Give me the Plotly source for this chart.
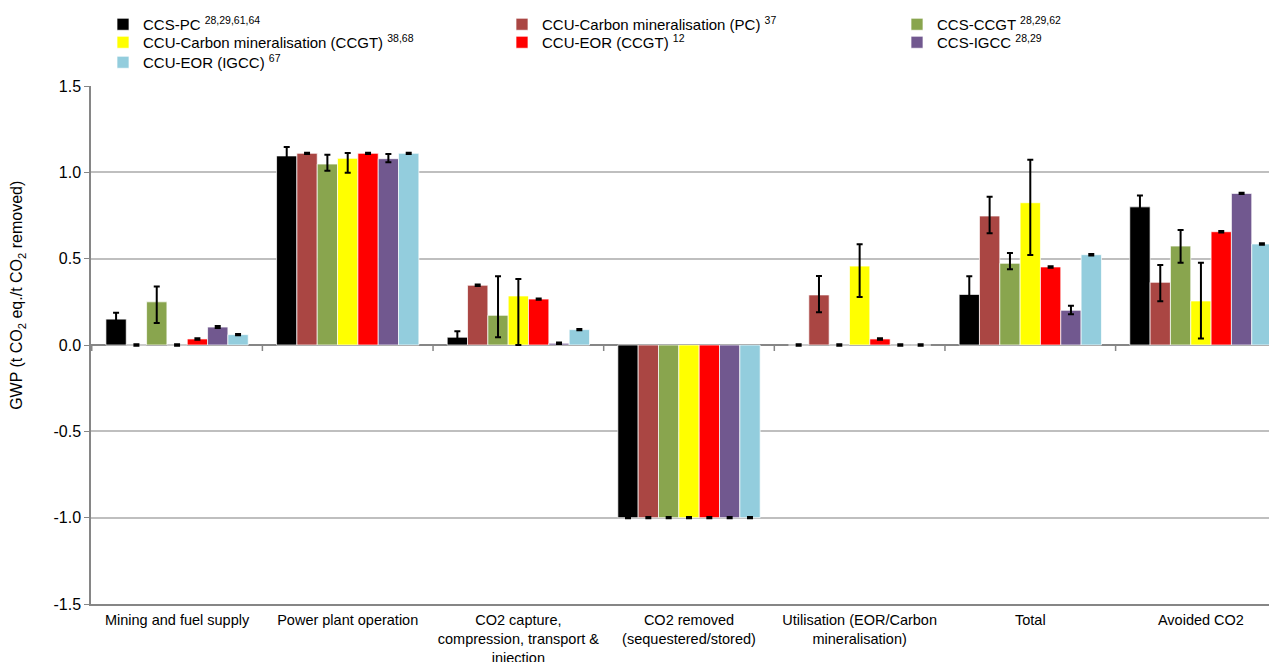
import plotly.graph_objects as go

categories = [
    "Mining and fuel supply",
    "Power plant operation",
    "CO2 capture,<br>compression, transport &<br>injection",
    "CO2 removed<br>(sequestered/stored)",
    "Utilisation (EOR/Carbon<br>mineralisation)",
    "Total",
    "Avoided CO2",
]

names = [
    "CCS-PC <sup>28,29,61,64</sup>",
    "CCU-Carbon mineralisation (PC) <sup>37</sup>",
    "CCS-CCGT <sup>28,29,62</sup>",
    "CCU-Carbon mineralisation (CCGT) <sup>38,68</sup>",
    "CCU-EOR (CCGT) <sup>12</sup>",
    "CCS-IGCC <sup>28,29</sup>",
    "CCU-EOR (IGCC) <sup>67</sup>",
]

colors = ["#000000", "#AA4643", "#89A54E", "#FFFF00", "#FF0000", "#71588F", "#93CDDD"]

y_ticks = [-1.5, -1.0, -0.5, 0.0, 0.5, 1.0, 1.5]

ccs_pc = [0.15, 1.095, 0.045, -1.0, 0.0, 0.293, 0.80]
ccs_pc_up = [0.037, 0.052, 0.034, 0.004, 0.004, 0.105, 0.066]
ccs_pc_dn = [0.037, 0.052, 0.034, 0.004, 0.004, 0.105, 0.066]

ccu_cm_pc = [0.0, 1.11, 0.346, -1.0, 0.29, 0.747, 0.363]
ccu_cm_pc_up = [0.004, 0.004, 0.004, 0.004, 0.11, 0.112, 0.10]
ccu_cm_pc_dn = [0.004, 0.004, 0.004, 0.004, 0.10, 0.10, 0.11]

ccs_ccgt = [0.25, 1.048, 0.172, -1.0, 0.0, 0.473, 0.573]
ccs_ccgt_up = [0.089, 0.054, 0.226, 0.004, 0.004, 0.06, 0.093]
ccs_ccgt_dn = [0.123, 0.039, 0.127, 0.004, 0.004, 0.035, 0.096]

ccu_cm_ccgt = [0.0, 1.081, 0.284, -1.0, 0.457, 0.824, 0.255]
ccu_cm_ccgt_up = [0.004, 0.031, 0.098, 0.004, 0.126, 0.249, 0.222]
ccu_cm_ccgt_dn = [0.004, 0.083, 0.284, 0.004, 0.179, 0.303, 0.218]

ccu_eor_ccgt = [0.035, 1.11, 0.266, -1.0, 0.035, 0.452, 0.656]
ccu_eor_ccgt_up = [0.004, 0.004, 0.004, 0.004, 0.004, 0.004, 0.004]
ccu_eor_ccgt_dn = [0.004, 0.004, 0.004, 0.004, 0.004, 0.004, 0.004]

ccs_igcc = [0.104, 1.079, 0.01, -1.0, 0.0, 0.201, 0.878]
ccs_igcc_up = [0.006, 0.027, 0.004, 0.004, 0.004, 0.027, 0.004]
ccs_igcc_dn = [0.006, 0.021, 0.004, 0.004, 0.004, 0.023, 0.004]

ccu_eor_igcc = [0.06, 1.11, 0.089, -1.0, 0.0, 0.523, 0.585]
ccu_eor_igcc_up = [0.004, 0.004, 0.004, 0.004, 0.004, 0.004, 0.004]
ccu_eor_igcc_dn = [0.004, 0.004, 0.004, 0.004, 0.004, 0.004, 0.004]

series = [
    (ccs_pc, ccs_pc_up, ccs_pc_dn),
    (ccu_cm_pc, ccu_cm_pc_up, ccu_cm_pc_dn),
    (ccs_ccgt, ccs_ccgt_up, ccs_ccgt_dn),
    (ccu_cm_ccgt, ccu_cm_ccgt_up, ccu_cm_ccgt_dn),
    (ccu_eor_ccgt, ccu_eor_ccgt_up, ccu_eor_ccgt_dn),
    (ccs_igcc, ccs_igcc_up, ccs_igcc_dn),
    (ccu_eor_igcc, ccu_eor_igcc_up, ccu_eor_igcc_dn),
]

FONT = "Liberation Sans, Arial, sans-serif"
W, H = 1279, 654

# legend grid: 3 columns, filled row by row (as in the reference)
col_left_px = [95, 494, 889]
row_top_px = [0, 18, 38]

fig = go.Figure()
legend_layout = {}
for k, ((vals, up, dn), name, col) in enumerate(zip(series, names, colors)):
    lid = "legend" if k == 0 else "legend%d" % (k + 1)
    fig.add_trace(go.Bar(
        x=categories, y=vals, name=name, legend=lid, showlegend=True,
        marker=dict(color=col, line=dict(color="rgba(255,255,255,0.7)", width=1)),
        error_y=dict(type="data", symmetric=False, array=up, arrayminus=dn,
                     color="#000000", thickness=2, width=3),
    ))
    r, c = divmod(k, 3)
    legend_layout[lid] = dict(
        xref="container", yref="container", yanchor="top", xanchor="left",
        x=col_left_px[c] / W, y=1 - row_top_px[r] / H,
        orientation="v", font=dict(family=FONT, size=15, color="#000000"),
        bgcolor="rgba(0,0,0,0)", itemwidth=30, visible=True,
    )

# category-boundary tick marks hanging below the zero line (Excel style)
for i in range(len(categories) + 1):
    fig.add_shape(type="line", xref="x", yref="y", ysizemode="pixel", yanchor=0,
                  x0=i - 0.5, x1=i - 0.5, y0=0, y1=-6,
                  line=dict(color="#868686", width=1.5))

fig.add_annotation(
    text="GWP (t CO<sub>2</sub> eq./t CO<sub>2</sub> removed)",
    xref="paper", yref="paper", x=-0.061, y=0.595,
    xanchor="center", yanchor="middle", textangle=-90, showarrow=False,
    font=dict(family=FONT, size=16, color="#000000"),
)

fig.update_layout(
    width=W, height=H, showlegend=True,
    paper_bgcolor="white", plot_bgcolor="white",
    margin=dict(l=83, r=0, t=78, b=58, autoexpand=False),
    barmode="group", bargap=0.166, bargroupgap=0,
    font=dict(family=FONT, size=15, color="#000000"),
    xaxis=dict(
        type="category", showline=True, linecolor="#868686", linewidth=1.5,
        ticks="", showgrid=False, zeroline=False, tickangle=0,
        tickfont=dict(family=FONT, size=14.5, color="#000000"),
        ticklabelstandoff=2,
    ),
    yaxis=dict(
        range=[-1.5, 1.5], tickmode="array", tickvals=y_ticks,
        ticktext=["%.1f" % v for v in y_ticks],
        showgrid=True, gridcolor="#BFBFBF", gridwidth=1.5,
        zeroline=True, zerolinecolor="#868686", zerolinewidth=1.5,
        showline=True, linecolor="#868686", linewidth=1.5,
        ticks="outside", ticklen=5, tickcolor="#868686",
        tickfont=dict(family=FONT, size=16, color="#000000"),
    ),
    **legend_layout,
)

fig.write_html("out.html")
